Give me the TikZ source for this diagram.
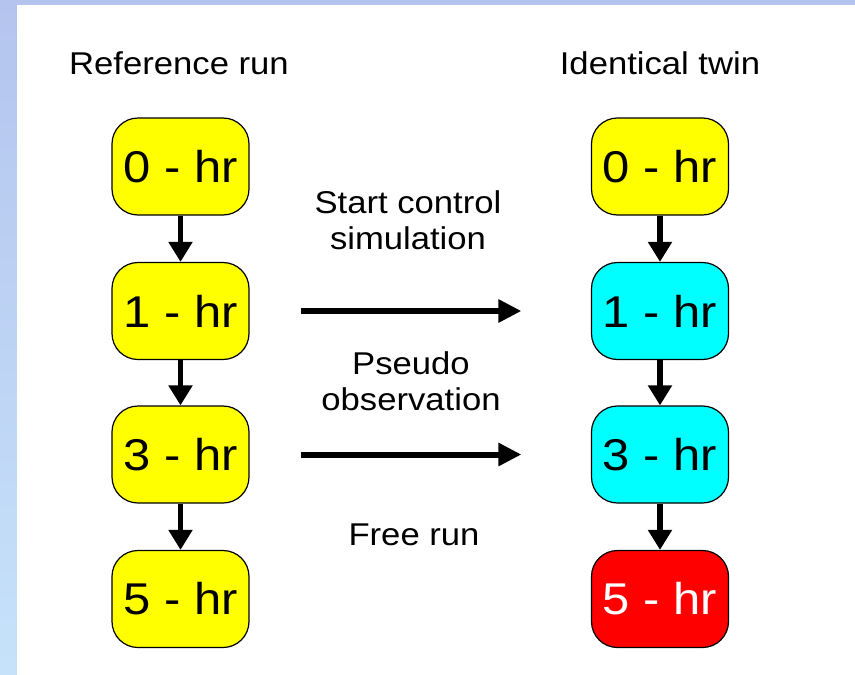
\documentclass[tikz,border=0pt]{standalone}
\usepackage{fontspec}
\setmainfont{Liberation Sans}[FakeStretch=1.1]
\usetikzlibrary{arrows.meta}
\definecolor{bgtop}{HTML}{B4C4EE}
\definecolor{bgbot}{HTML}{C6E2FA}
\definecolor{boxyellow}{RGB}{255,255,0}
\definecolor{boxcyan}{RGB}{0,255,255}
\definecolor{boxred}{RGB}{255,0,0}
\begin{document}
\begin{tikzpicture}[x=1pt,y=-1pt,
  hrbox/.style={draw=black,line width=1.2pt,rounded corners=26pt,minimum width=137pt,minimum height=97pt,inner sep=0pt,font=\fontsize{44.5}{48}\selectfont},
  lbl/.style={font=\fontsize{31.5}{36}\selectfont,align=center,inner sep=0pt},
  flow/.style={line width=5.8pt,-{Triangle[length=20pt,width=23pt]}},
  feed/.style={line width=6pt,-{Triangle[length=23pt,width=22pt]}}]
\useasboundingbox (0,0) rectangle (855,675);
\shade[top color=bgtop,bottom color=bgbot] (0,0) rectangle (855,675);
\fill[white] (17,5) rectangle (855,675);
% titles
\node[lbl,anchor=base] (tl) at (179,74) {Reference run};
\node[lbl,anchor=base] (tr) at (660,74) {Identical twin};
% left column
\node[hrbox,fill=boxyellow] (L0) at (180.5,166.5) {0 - hr};
\node[hrbox,fill=boxyellow] (L1) at (180.5,311) {1 - hr};
\node[hrbox,fill=boxyellow] (L3) at (180.5,454.5) {3 - hr};
\node[hrbox,fill=boxyellow] (L5) at (180.5,599) {5 - hr};
% right column
\node[hrbox,fill=boxyellow] (R0) at (660,166.5) {0 - hr};
\node[hrbox,fill=boxcyan] (R1) at (660,311) {1 - hr};
\node[hrbox,fill=boxcyan] (R3) at (660,454.5) {3 - hr};
\node[hrbox,fill=boxred,text=white] (R5) at (660,599) {5 - hr};
% vertical arrows
\draw[flow] (L0) -- (L1);
\draw[flow] (L1) -- (L3);
\draw[flow] (L3) -- (L5);
\draw[flow] (R0) -- (R1);
\draw[flow] (R1) -- (R3);
\draw[flow] (R3) -- (R5);
% horizontal arrows
\draw[feed,shorten <=51pt,shorten >=69.5pt] (L1.east) -- (R1.west);
\draw[feed,shorten <=51pt,shorten >=69.5pt] (L3.east) -- (R3.west);
% middle labels
\node[lbl] (m1) at (408,220) {Start control\\simulation};
\node[lbl] (m2) at (411,381) {Pseudo\\observation};
\node[lbl,anchor=base] (m3) at (414,545) {Free run};
\end{tikzpicture}
\end{document}
